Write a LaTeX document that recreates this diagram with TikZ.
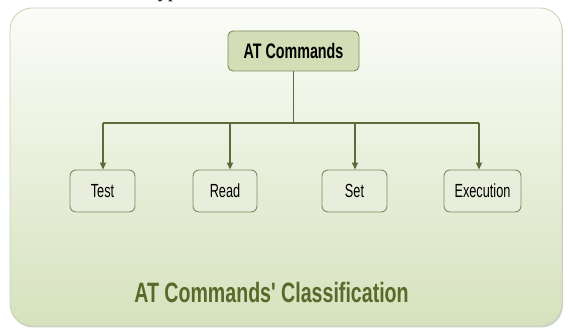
\documentclass[tikz,border=0pt]{standalone}
\usepackage{fontspec}
\setmainfont{Liberation Sans}
\newfontfamily\rootfont[FakeStretch=0.68]{Liberation Sans}
\newfontfamily\childfont[FakeStretch=0.67]{Liberation Sans}
\newfontfamily\titlefont[FakeStretch=0.70]{Liberation Sans}
\newfontfamily\serifcut{Liberation Serif}
\usetikzlibrary{arrows.meta}
\definecolor{panelTop}{HTML}{FBFCF8}
\definecolor{panelBot}{HTML}{D6E2BE}
\definecolor{panelEdge}{HTML}{C9D2B4}
\definecolor{rootFill}{HTML}{D3DDB6}
\definecolor{boxEdge}{HTML}{7E8B60}
\definecolor{childFill}{HTML}{E8EEDB}
\definecolor{lineCol}{HTML}{5B6B3A}
\definecolor{titleCol}{HTML}{566B2A}
\tikzset{
  rootbox/.style={draw=boxEdge, line width=0.9pt, fill=rootFill, rounded corners=5pt,
    minimum width=131pt, minimum height=40pt, inner sep=0pt,
    font=\rootfont\bfseries\fontsize{21}{24}\selectfont},
  childbox/.style={draw=boxEdge, line width=0.9pt, fill=childFill, rounded corners=6pt,
    minimum height=42pt, inner sep=0pt,
    font=\childfont\fontsize{19}{22}\selectfont},
  conn/.style={draw=lineCol, line width=1.6pt},
  arr/.style={conn, -{Triangle[length=7pt,width=6pt]}},
}
\begin{document}
\begin{tikzpicture}[x=1pt,y=1pt]
\useasboundingbox (0,0) rectangle (568,328);
\clip (0,0) rectangle (568,328);
\fill[white] (0,0) rectangle (568,328);
% cut-off caption line at the very top
\node[anchor=base west, inner sep=0pt, font=\serifcut\fontsize{20}{24}\selectfont] (cap) at (33,330) {There are four types of AT commands.};
% panel shadow and panel
\fill[black!18, rounded corners=22pt] (11,0.5) rectangle (563,318);
\shade[top color=panelTop, bottom color=panelBot, draw=panelEdge, line width=0.8pt, rounded corners=22pt]
  (10,2) rectangle (562,320);
% nodes
\node[rootbox] (root) at (293.5,277) {AT Commands};
\node[childbox, minimum width=65pt] (test) at (102.5,137) {Test};
\node[childbox, minimum width=64pt] (read) at (225,137) {Read};
\node[childbox, minimum width=65pt] (set) at (354.5,137) {Set};
\node[childbox, minimum width=77pt] (exec) at (482.5,137) {Execution};
% bar
\coordinate (j) at (293.5,205);
\coordinate (b1) at (103,205);
\coordinate (b2) at (230,205);
\coordinate (b3) at (355,205);
\coordinate (b4) at (479,205);
\draw[conn] (root.south) -- (j);
\draw[conn] (b1) -- (b4);
\draw[arr] (b1) -- (b1 |- test.north);
\draw[arr] (b2) -- (b2 |- read.north);
\draw[arr] (b3) -- (b3 |- set.north);
\draw[arr] (b4) -- (b4 |- exec.north);
% title
\node[text=titleCol, inner sep=0pt, font=\titlefont\bfseries\fontsize{28}{32}\selectfont] (title) at (271.5,36) {AT Commands' Classification};
\end{tikzpicture}
\end{document}
